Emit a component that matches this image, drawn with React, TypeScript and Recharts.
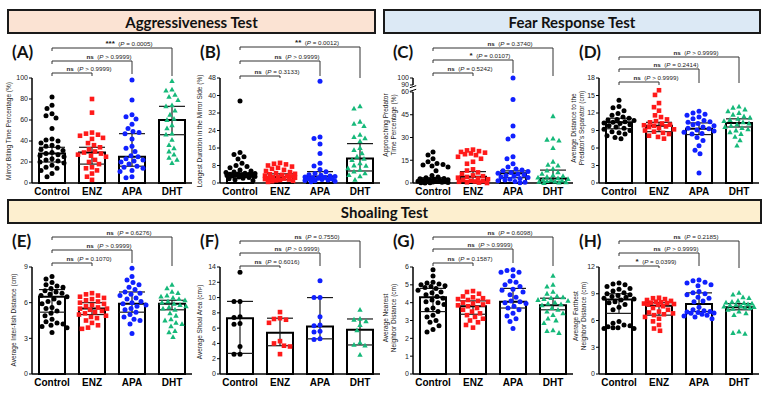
import React from 'react';
import { ComposedChart, Bar, Scatter, XAxis, YAxis, ErrorBar, ReferenceLine, ReferenceDot } from 'recharts';

const groups = ['Control', 'ENZ', 'APA', 'DHT'];

// (A) Mirror biting time percentage (%)
const aControl = [82, 74, 71, 66, 64, 62, 52, 42, 41, 40, 38, 36, 35, 34, 32, 31, 29, 28, 27, 26, 25, 23, 22, 21, 20, 19, 17, 15, 14, 12, 9, 6];
const aEnz = [80, 67, 48, 47, 46, 45, 43, 42, 38, 36, 34, 32, 30, 29, 28, 27, 26, 25, 22, 20, 18, 15, 14, 12, 9, 6, 3];
const aApa = [98, 79, 65, 63, 61, 56, 52, 49, 48, 47, 42, 35, 33, 30, 26, 25, 23, 22, 21, 20, 18, 16, 15, 14, 12, 11, 6, 5];
const aDht = [97, 89, 88, 84, 82, 79, 74, 73, 69, 65, 61, 60, 55, 52, 47, 46, 41, 36, 33, 30, 27, 24, 22, 19];
const aMid = [28, 29, 25, 60];
const aLow = [20, 18, 16, 46];
const aHigh = [34, 34, 47, 73];
const aSig = ['ns', 'ns', '***'];
const aP = ['> 0.9999', '> 0.9999', '= 0.0005'];

// (B) Longest duration in the mirror side (%)
const bControl = [37.5, 14, 13, 12, 11, 9, 8, 7.5, 7, 6, 5.5, 5, 4.8, 4.5, 4.3, 4.1, 4, 3.9, 3.8, 3.6, 3.5, 3.4, 3.3, 3.2, 3, 2.8, 2.5, 2.2, 2, 1.5, 1];
const bEnz = [9.2, 8.8, 8.5, 8, 7.5, 7, 6.5, 6, 5.5, 5, 4.5, 4.2, 4, 3.7, 3.4, 3.2, 3, 2.8, 2.6, 2.4, 2.2, 2, 1.8, 1.6, 1.4, 1.2, 1, 0.8, 0.5];
const bApa = [46.5, 21, 20.3, 17.8, 13.5, 9, 7.8, 6.2, 5.2, 4.4, 3.8, 3.5, 3.2, 3, 2.8, 2.6, 2.4, 2.2, 2, 1.8, 1.6, 1.4, 1.2, 1, 0.8, 0.6];
const bDht = [35, 34, 28, 27, 26, 22, 21, 20.4, 19, 16, 15, 13.5, 12, 11, 10.5, 9, 8, 7.8, 6.7, 6, 5.2, 4.4, 3.6, 3, 1.4];
const bMid = [3.8, 2.8, 3, 11.2];
const bLow = [2.8, 1.5, 1.8, 5.5];
const bHigh = [4.6, 4.2, 5.2, 18];
const bSig = ['ns', 'ns', '**'];
const bP = ['= 0.3133', '> 0.9999', '= 0.0012'];

// (C) Approaching predator time percentage (%)
const cControl = [20.5, 18.5, 16, 14, 12.8, 12.2, 11.8, 11.2, 10.5, 8, 5, 4, 3.5, 3, 2.8, 2.5, 2.2, 2, 1.8, 1.6, 1.4, 1.2, 1, 0.8, 0.6, 0.5, 0.3, 0.2, 0.1, 0];
const cEnz = [22, 21.5, 21, 20.5, 20, 19.5, 19, 18.4, 17.3, 16, 14, 12.7, 9, 8.2, 7, 6, 5, 4.5, 4, 3.5, 3, 2.5, 2, 1.5, 1.2, 1, 0.8, 0.5, 0.3, 0];
const cApa = [100, 55, 37.5, 31, 29, 17.3, 16, 12.7, 10.5, 9.3, 8.5, 8, 7.5, 7, 6.5, 6, 5.5, 5, 4.5, 4, 3.6, 3, 2.5, 2, 1.5, 1, 0.5, 0.2];
const cDht = [44, 29.3, 28.5, 28, 23, 14, 12, 11.5, 9.3, 8.2, 7, 6, 5, 4.5, 4, 3.5, 3, 2.5, 2, 1.8, 1.5, 1.2, 1, 0.8, 0.5, 0.3, 0];
const cMid = [1.5, 4.2, 6.5, 3];
const cLow = [0.5, 1, 3.5, 0.8];
const cHigh = [3.5, 7.5, 8, 8.5];
const cSig = ['ns', '*', 'ns'];
const cP = ['= 0.5242', '= 0.0107', '= 0.3740'];
const cTickLabels = [0, 15, 30, 45, 60, 90, 100];

// (D) Average distance to the predator's separator (cm)
const dControl = [14.2, 13.1, 12.9, 12.4, 11.9, 11.6, 11.3, 11.1, 10.9, 10.8, 10.7, 10.5, 10.4, 10.3, 10.2, 10, 9.8, 9.6, 9.4, 9.2, 9, 8.8, 8.6, 8.4, 8.1, 7.8, 7.6];
const dEnz = [15.9, 15.1, 13.7, 13, 12.4, 11.6, 11.3, 10.9, 10.6, 10.4, 10.2, 10, 9.9, 9.8, 9.7, 9.6, 9.4, 9.2, 9, 8.8, 8.6, 8.4, 8.1, 7.9, 7.6];
const dApa = [12.3, 12, 11.8, 11.6, 11.3, 11, 10.7, 10.5, 10.4, 10.2, 10, 9.8, 9.6, 9.4, 9.3, 9.1, 8.9, 8.7, 8.5, 8.4, 7.8, 7.3, 6.4, 5.6, 5, 1.7];
const dDht = [13.1, 12.9, 12.6, 12.3, 12, 11.7, 11.4, 11.2, 11, 10.8, 10.6, 10.4, 10.2, 10, 9.8, 9.6, 9.4, 9.2, 9, 8.7, 8.4, 7.9, 7.3, 6.4];
const dMid = [10.4, 9.8, 9.3, 10.3];
const dLow = [9.3, 8.8, 8.3, 9.6];
const dHigh = [11.1, 10.4, 10.3, 11];
const dSig = ['ns', 'ns', 'ns'];
const dP = ['> 0.9999', '= 0.2414', '> 0.9999'];

// (E) Average inter-fish distance (cm)
const eControl = [8.2, 8, 7.7, 7.5, 7.4, 7.3, 7.2, 7, 6.9, 6.8, 6.7, 6.6, 6.5, 6.3, 6.1, 6, 5.9, 5.6, 5.5, 5.3, 5.1, 4.9, 4.6, 4.4, 4.3, 4.2, 4.1, 4, 3.9, 3.5];
const eEnz = [6.8, 6.7, 6.6, 6.5, 6.4, 6.3, 6.2, 6.1, 6, 5.9, 5.8, 5.7, 5.6, 5.5, 5.5, 5.4, 5.3, 5.2, 5.1, 5, 4.9, 4.8, 4.7, 4.5, 4.3, 4.1, 3.9, 3.8];
const eApa = [8.9, 8.2, 7.9, 7.7, 7.5, 7.3, 7.1, 6.9, 6.8, 6.7, 6.6, 6.4, 6.3, 6.1, 6, 5.9, 5.8, 5.7, 5.5, 5.4, 5.2, 5, 4.8, 4.6, 4.5, 4.2, 3.4];
const eDht = [7.5, 7.2, 6.9, 6.8, 6.6, 6.5, 6.4, 6.3, 6.2, 6.1, 6, 5.9, 5.8, 5.7, 5.6, 5.5, 5.4, 5.1, 4.9, 4.6, 4.5, 4.3, 4.2, 4, 3.6, 3.5, 3.1];
const eMid = [6.5, 5.5, 5.9, 5.9];
const eLow = [5.2, 5, 5.2, 5.4];
const eHigh = [7.1, 6, 6.9, 6.2];
const eSig = ['ns', 'ns', 'ns'];
const eP = ['= 0.1070', '> 0.9999', '= 0.6276'];

// (F) Average shoal area (cm2)
const fControl = [13.3, 9.5, 9.5, 7.5, 7.4, 6.6, 6.5, 3.6, 2.6, 2.6];
const fEnz = [8.1, 7.3, 7.2, 7.1, 6.7, 4.3, 4, 3.7, 3.6, 2.6];
const fApa = [12.2, 10, 10, 7.5, 6.4, 6.3, 5.6, 5.5, 4.6, 4.5];
const fDht = [8.4, 7.2, 7.1, 6.9, 6.4, 5.7, 4.1, 3.8, 3.7, 2.5];
const fMid = [7.3, 5.4, 6.2, 5.8];
const fLow = [2.7, 3.7, 4.6, 3.8];
const fHigh = [9.5, 7.3, 10, 7.2];
const fSig = ['ns', 'ns', 'ns'];
const fP = ['= 0.6016', '> 0.9999', '= 0.7550'];

// (G) Average nearest neighbor distance (cm)
const gControl = [5.85, 5.5, 5.15, 5.1, 5.05, 5, 4.95, 4.9, 4.85, 4.8, 4.7, 4.6, 4.55, 4.45, 4.35, 4.25, 4.15, 4.05, 4, 3.9, 3.7, 3.6, 3.5, 3.3, 3.2, 3, 2.9, 2.7, 2.5, 2.35];
const gEnz = [4.65, 4.6, 4.5, 4.35, 4.3, 4.25, 4.2, 4.15, 4.1, 4.05, 4, 3.95, 3.9, 3.85, 3.8, 3.7, 3.6, 3.5, 3.4, 3.3, 3.2, 3.1, 3, 2.9, 2.75, 2.6];
const gApa = [5.85, 5.8, 5.7, 5.7, 5.5, 5.2, 5.15, 5, 4.9, 4.75, 4.7, 4.6, 4.45, 4.3, 4.1, 4.05, 4, 3.95, 3.8, 3.7, 3.6, 3.4, 3.25, 3.1, 2.95, 2.55];
const gDht = [5.5, 5, 4.9, 4.6, 4.5, 4.35, 4.3, 4.25, 4.2, 4.15, 4.1, 4, 3.95, 3.9, 3.85, 3.7, 3.6, 3.5, 3.4, 3.3, 3.1, 3, 2.85, 2.45, 2.4, 2.3];
const gMid = [4.3, 3.8, 4.05, 3.85];
const gLow = [3.5, 3.35, 3.7, 3.6];
const gHigh = [4.8, 4.1, 4.8, 4.25];
const gSig = ['ns', 'ns', 'ns'];
const gP = ['= 0.1587', '> 0.9999', '= 0.6098'];

// (H) Average farthest neighbor distance (cm)
const hControl = [10.2, 10.1, 10, 9.8, 9.6, 9.5, 9.3, 9.1, 9, 8.9, 8.8, 8.7, 8.6, 8.5, 8.4, 8.3, 8.1, 8, 7.8, 7.5, 7.2, 5.9, 5.7, 5.5, 5.4, 5.3, 5.2, 5.2, 5.1, 5.1];
const hEnz = [8.55, 8.5, 8.4, 8.3, 8.2, 8.1, 8.05, 8, 7.95, 7.9, 7.85, 7.8, 7.75, 7.6, 7.4, 7.2, 7, 6.9, 6.8, 6.7, 6.6, 6.4, 6.2, 5.9, 5.5, 5.1, 4.85];
const hApa = [10.55, 10.45, 10.3, 10.2, 10, 9.9, 9.25, 9.1, 9, 8.9, 8.6, 8.5, 8.2, 8.1, 7.5, 7.2, 7.1, 7, 6.95, 6.9, 6.85, 6.8, 6.7, 6.6, 6.5, 6.4, 6.2];
const hDht = [9.1, 8.9, 8.6, 8.5, 8.2, 8.1, 8, 7.95, 7.9, 7.8, 7.75, 7.7, 7.6, 7.55, 7.5, 7.45, 7.4, 7.3, 7.2, 7, 6.8, 6.6, 4.75, 4.6, 4.5];
const hMid = [8.35, 7.65, 7.85, 7.5];
const hLow = [6.8, 6.6, 7, 7.2];
const hHigh = [9, 8, 9.1, 7.9];
const hSig = ['*', 'ns', 'ns'];
const hP = ['= 0.0399', '> 0.9999', '= 0.2185'];

const COLORS = ['#000000', '#ff1a1a', '#1020ff', '#16b97a'];
const FONT = '"Liberation Sans", Arial, sans-serif';
const HEAD_FONT = 'Lato, "Open Sans", sans-serif';

// broken axis for panel C: 0-60 linear, then 90-100 squeezed on top
const C_JUMP = 64.615;
const C_UP = 0.4615;
const cT = (v: number) => (v <= 60 ? v : C_JUMP + (v - 90) * C_UP);
const cInv = (d: number) => Math.round(d <= 60 ? d : 90 + (d - C_JUMP) / C_UP);
const ident = (v: number) => v;

// beeswarm layout of dots inside each bar (pixel space)
function swarm(vals: number[], toPx: (v: number) => number, D = 5.8, maxOff = 15) {
  const order = vals.map((_, i) => i).sort((a, b) => vals[b] - vals[a]);
  const placed: { x: number; y: number }[] = [];
  const out: number[] = new Array(vals.length).fill(0);
  for (const i of order) {
    const y = toPx(vals[i]);
    let best = 0;
    let bestScore = -1;
    for (let k = 0; k <= maxOff * 2; k++) {
      const off = k === 0 ? 0 : k % 2 ? -Math.ceil(k / 2) : k / 2;
      let minD = Infinity;
      for (const p of placed) {
        const d = Math.hypot(p.x - off, p.y - y);
        if (d < minD) minD = d;
      }
      if (minD >= D) {
        best = off;
        break;
      }
      if (minD > bestScore) {
        bestScore = minD;
        best = off;
      }
    }
    placed.push({ x: best, y });
    out[i] = best;
  }
  return out;
}

const dotShape = (gi: number) => (props: any) => {
  const { cx, cy } = props;
  if (cx == null || cy == null) return <g />;
  const c = COLORS[gi];
  if (gi === 1) return <rect x={cx - 2.3} y={cy - 2.3} width={4.6} height={4.6} fill={c} />;
  if (gi === 3)
    return <polygon points={`${cx},${cy - 2.9} ${cx - 2.7},${cy + 1.9} ${cx + 2.7},${cy + 1.9}`} fill={c} />;
  return <circle cx={cx} cy={cy} r={2.5} fill={c} />;
};

const bracketText = (sig: string, p: string) => (props: any) => {
  const { cx, cy } = props;
  const star = sig.includes('*');
  return (
    <text x={cx + 17} y={cy - 2.5} textAnchor="middle" fontSize={6.2} fontFamily={FONT} fill="#1a1a1a">
      <tspan fontWeight="bold" fontSize={star ? 8 : 6.2}>{sig}</tspan>
      <tspan>{'\u00a0\u00a0('}</tspan>
      <tspan fontStyle="italic">P</tspan>
      <tspan>{'\u00a0' + p + ')'}</tspan>
    </text>
  );
};

type Cfg = {
  letter: string;
  title: string[];
  plotLeft: number;
  top: number;
  plotTop: number;
  plotBottom: number;
  domain: [number, number];
  ticks: number[];
  T?: (v: number) => number;
  fmt?: (v: number) => string;
  lines: number[];
  legs: number[];
  titleX: number;
  titleY: number;
  broken?: boolean;
};

type PanelData = {
  sets: number[][];
  mid: number[];
  low: number[];
  high: number[];
  sig: string[];
  p: string[];
};

const Panel = ({ cfg, d }: { cfg: Cfg; d: PanelData }) => {
  const T = cfg.T || ident;
  const W = 200;
  const yW = 32;
  const xH = 16;
  const H = cfg.plotBottom - cfg.top + xH;
  const plotH = cfg.plotBottom - cfg.plotTop;
  const [d0, d1] = cfg.domain;
  const toPx = (v: number) => ((T(v) - d0) / (d1 - d0)) * plotH;
  const pxToData = (py: number) => d1 + ((cfg.plotTop - py) / plotH) * (d1 - d0);
  const pxY = (d1 - d0) / plotH;

  const barRows = groups.map((g, i) => ({ name: g, v: T(d.mid[i]) }));
  const errRows = groups.map((g, i) => ({
    x: i,
    y: T(d.mid[i]),
    err: [T(d.mid[i]) - T(d.low[i]), T(d.high[i]) - T(d.mid[i])],
  }));

  const brackets: React.ReactNode[] = [];
  d.sig.forEach((s, i) => {
    const to = i + 1;
    const ly = pxToData(cfg.lines[i]);
    const ry = pxToData(cfg.legs[i]);
    const common = { xAxisId: 'num', stroke: '#333', strokeWidth: 1, ifOverflow: 'visible' as const };
    brackets.push(<ReferenceLine key={`h${i}`} {...common} segment={[{ x: 0, y: ly }, { x: to, y: ly }]} />);
    brackets.push(<ReferenceLine key={`l${i}`} {...common} segment={[{ x: 0, y: ly }, { x: 0, y: ly - 3 * pxY }]} />);
    brackets.push(<ReferenceLine key={`r${i}`} {...common} segment={[{ x: to, y: ly }, { x: to, y: ry }]} />);
    brackets.push(
      <ReferenceDot key={`t${i}`} xAxisId="num" x={to / 2} y={ly} ifOverflow="visible" shape={bracketText(s, d.p[i])} />
    );
  });

  return (
    <>
      <div style={{ position: 'absolute', left: cfg.plotLeft - yW, top: cfg.top }}>
        <ComposedChart
          width={W}
          height={H}
          data={barRows}
          margin={{ top: cfg.plotTop - cfg.top, right: W - yW - 160, bottom: 0, left: 0 }}
        >
          <XAxis
            dataKey="name"
            height={xH}
            tickLine={false}
            tickSize={0}
            tickMargin={5}
            axisLine={{ stroke: '#000', strokeWidth: 1.5 }}
            tick={{ fontSize: 10, fontWeight: 'bold', fill: '#000', fontFamily: FONT }}
            interval={0}
          />
          <XAxis xAxisId="num" type="number" dataKey="x" domain={[-0.5, 3.5]} hide />
          <YAxis
            width={yW}
            type="number"
            domain={cfg.domain}
            ticks={cfg.ticks}
            interval={0}
            tickFormatter={cfg.fmt}
            tickSize={3}
            tickMargin={1}
            axisLine={cfg.broken ? false : { stroke: '#000', strokeWidth: 1.5 }}
            tickLine={{ stroke: '#000', strokeWidth: 1 }}
            tick={{ fontSize: 7, fill: '#222', fontFamily: FONT }}
          />
          <Bar dataKey="v" barSize={26} fill="#fff" stroke="#000" strokeWidth={2} isAnimationActive={false} />
          {d.sets.map((vals, gi) => {
            const offs = swarm(vals, toPx);
            const pts = vals.map((v, k) => ({ x: gi + offs[k] / 40, y: T(v) }));
            return (
              <Scatter
                key={gi}
                xAxisId="num"
                data={pts}
                dataKey="y"
                shape={dotShape(gi)}
                isAnimationActive={false}
              />
            );
          })}
          <Scatter xAxisId="num" data={errRows} dataKey="y" shape={() => <g />} isAnimationActive={false}>
            <ErrorBar dataKey="err" direction="y" width={13} stroke="#1a1a1a" strokeWidth={1.2} />
          </Scatter>
          {cfg.broken && [
            <ReferenceLine key="ax1" xAxisId="num" ifOverflow="visible" stroke="#000" strokeWidth={1.5}
              segment={[{ x: -0.5, y: 0 }, { x: -0.5, y: 60 }]} />,
            <ReferenceLine key="ax2" xAxisId="num" ifOverflow="visible" stroke="#000" strokeWidth={1.5}
              segment={[{ x: -0.5, y: C_JUMP }, { x: -0.5, y: d1 }]} />,
            <ReferenceLine key="br1" xAxisId="num" ifOverflow="visible" stroke="#000" strokeWidth={1}
              segment={[{ x: -0.58, y: 60.4 }, { x: -0.42, y: 61.8 }]} />,
            <ReferenceLine key="br2" xAxisId="num" ifOverflow="visible" stroke="#000" strokeWidth={1}
              segment={[{ x: -0.58, y: 62.8 }, { x: -0.42, y: 64.2 }]} />,
          ]}
          {brackets}
        </ComposedChart>
      </div>
      <div
        style={{
          position: 'absolute',
          left: cfg.plotLeft - 20,
          top: cfg.plotTop - 26,
          transform: 'translateY(-50%)',
          fontFamily: HEAD_FONT,
          fontWeight: 700,
          fontSize: 17,
          lineHeight: '18px',
          color: '#111',
          whiteSpace: 'nowrap',
        }}
      >
        {cfg.letter}
      </div>
      <div
        style={{
          position: 'absolute',
          left: cfg.titleX,
          top: cfg.titleY,
          transform: 'translate(-50%, -50%) rotate(-90deg)',
          fontFamily: FONT,
          fontSize: 6.5,
          lineHeight: '7.5px',
          textAlign: 'center',
          whiteSpace: 'nowrap',
          color: '#222',
        }}
      >
        {cfg.title.map((t, i) => (
          <div key={i}>{t}</div>
        ))}
      </div>
    </>
  );
};

const tick = (step: number, max: number) => {
  const out: number[] = [];
  for (let v = 0; v <= max + 1e-9; v += step) out.push(v);
  return out;
};

const TOP = { top: 36, plotTop: 78, plotBottom: 183 };
const BOT = { top: 226, plotTop: 267, plotBottom: 374 };

const panels: { cfg: Cfg; d: PanelData }[] = [
  {
    cfg: { letter: '(A)', title: ['Mirror Biting Time Percentage (%)'], plotLeft: 32, ...TOP, domain: [0, 100], ticks: tick(20, 100),
      lines: [73, 61, 48], legs: [76, 74, 76], titleX: 9, titleY: 131 },
    d: { sets: [aControl, aEnz, aApa, aDht], mid: aMid, low: aLow, high: aHigh, sig: aSig, p: aP },
  },
  {
    cfg: { letter: '(B)', title: ['Longest  Duration in the Mirror Side (%)'], plotLeft: 220, ...TOP, domain: [0, 48], ticks: tick(8, 48),
      lines: [76, 61, 47], legs: [78, 76, 78], titleX: 200, titleY: 131 },
    d: { sets: [bControl, bEnz, bApa, bDht], mid: bMid, low: bLow, high: bHigh, sig: bSig, p: bP },
  },
  {
    cfg: { letter: '(C)', title: ['Approaching Predator', 'Time Percentage (%)'], plotLeft: 413, ...TOP, domain: [0, cT(100)],
      ticks: cTickLabels.map(cT), T: cT, fmt: (v: number) => String(cInv(v)), broken: true,
      lines: [73, 60, 48], legs: [76, 73, 76], titleX: 389, titleY: 125 },
    d: { sets: [cControl, cEnz, cApa, cDht], mid: cMid, low: cLow, high: cHigh, sig: cSig, p: cP },
  },
  {
    cfg: { letter: '(D)', title: ['Average Distance to the', "Predator's Separator (cm)"], plotLeft: 599, ...TOP, domain: [0, 18], ticks: tick(3, 18),
      lines: [82, 69, 57], legs: [85, 83, 83], titleX: 577, titleY: 128 },
    d: { sets: [dControl, dEnz, dApa, dDht], mid: dMid, low: dLow, high: dHigh, sig: dSig, p: dP },
  },
  {
    cfg: { letter: '(E)', title: ['Average Inter-fish Distance (cm)'], plotLeft: 32, ...BOT, domain: [0, 9], ticks: tick(3, 9),
      lines: [263, 250, 237], legs: [266, 263, 266], titleX: 14, titleY: 320 },
    d: { sets: [eControl, eEnz, eApa, eDht], mid: eMid, low: eLow, high: eHigh, sig: eSig, p: eP },
  },
  {
    cfg: { letter: '(F)', title: ['Average Shoal Area (cm\u00b2)'], plotLeft: 220, ...BOT, domain: [0, 14], ticks: tick(2, 14),
      lines: [266, 253, 241], legs: [268, 266, 268], titleX: 200, titleY: 322 },
    d: { sets: [fControl, fEnz, fApa, fDht], mid: fMid, low: fLow, high: fHigh, sig: fSig, p: fP },
  },
  {
    cfg: { letter: '(G)', title: ['Average Nearest', 'Neighbor Distance (cm)'], plotLeft: 413, ...BOT, domain: [0, 6], ticks: tick(1, 6),
      lines: [263, 249, 237], legs: [266, 263, 266], titleX: 389, titleY: 318 },
    d: { sets: [gControl, gEnz, gApa, gDht], mid: gMid, low: gLow, high: gHigh, sig: gSig, p: gP },
  },
  {
    cfg: { letter: '(H)', title: ['Average Farthest', 'Neighbor Distance (cm)'], plotLeft: 599, ...BOT, domain: [0, 12], ticks: tick(3, 12),
      lines: [266, 253, 241], legs: [268, 266, 268], titleX: 579, titleY: 316 },
    d: { sets: [hControl, hEnz, hApa, hDht], mid: hMid, low: hLow, high: hHigh, sig: hSig, p: hP },
  },
];

const Header = ({ x, y, w, h, bg, text }: { x: number; y: number; w: number; h: number; bg: string; text: string }) => (
  <div
    style={{
      position: 'absolute',
      left: x,
      top: y,
      width: w,
      height: h,
      boxSizing: 'border-box',
      border: '2px solid #1a1a1a',
      background: bg,
      display: 'flex',
      alignItems: 'center',
      justifyContent: 'center',
      fontFamily: HEAD_FONT,
      fontWeight: 700,
      fontSize: 15,
      color: '#111',
    }}
  >
    {text}
  </div>
);

export default function App() {
  return (
    <div style={{ position: 'absolute', left: 0, top: 0, width: 768, height: 394, background: '#fff', overflow: 'hidden' }}>
      <Header x={7} y={9} w={369} h={25} bg="#fbe3d3" text="Aggressiveness Test" />
      <Header x={383} y={9} w={378} h={25} bg="#dce9f5" text="Fear Response Test" />
      <Header x={7} y={199} w={755} h={25} bg="#fdefcf" text="Shoaling Test" />
      {panels.map((pn, i) => (
        <Panel key={i} cfg={pn.cfg} d={pn.d} />
      ))}
    </div>
  );
}
